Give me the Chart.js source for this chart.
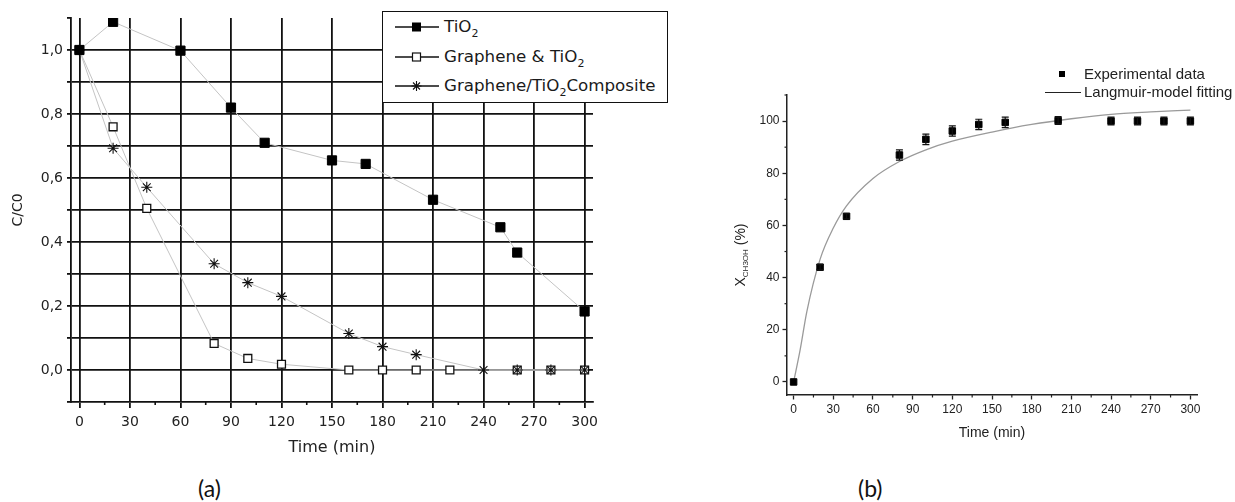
<!DOCTYPE html>
<html>
<head>
<meta charset="utf-8">
<script src="https://cdn.jsdelivr.net/npm/chart.js@4.4.0/dist/chart.umd.min.js"></script>
<style>
  body { margin: 0; background: #fff; width: 1235px; height: 502px; position: relative; overflow: hidden; font-family: 'Liberation Sans', Arial, sans-serif; color: #222; }
  #wrapA { position: absolute; left: 0; top: 0; width: 680px; height: 470px; }
  #wrapB { position: absolute; left: 680px; top: 0; width: 555px; height: 470px; }
  .legA { position: absolute; left: 382px; top: 11px; width: 284px; height: 90px; border: 1.5px solid #111; background: #fff; font: 16.7px 'DejaVu Sans', sans-serif; color: #1a1a1a; }
  .legA .row { position: absolute; left: 0; height: 20px; line-height: 20px; width: 284px; }
  .legA svg { position: absolute; left: 12px; top: 0; }
  .legA span { position: absolute; left: 61px; top: -1px; white-space: nowrap; }
  .legA sub { font-size: 11px; vertical-align: -5px; line-height: 0; }
  .legB { position: absolute; font: 15px 'Liberation Sans', Arial, sans-serif; color: #222; white-space: nowrap; }
  .ytitleB { position: absolute; left: 682px; top: 245px; width: 120px; height: 20px; line-height: 20px; text-align: center; transform: rotate(-90deg); font: 14px 'Liberation Sans', Arial, sans-serif; color: #222; white-space: nowrap; }
  .ytitleB sub { font-size: 8px; vertical-align: -3px; line-height: 0; }
  .cap { position: absolute; top: 474px; font: 23px Lato, 'Open Sans', sans-serif; color: #111; }
</style>
</head>
<body>
<div id="wrapA"><canvas id="chartA" width="680" height="470"></canvas></div>
<div id="wrapB"><canvas id="chartB" width="555" height="470"></canvas></div>

<div class="legA">
  <div class="row" style="top:5px">
    <svg width="46" height="20"><line x1="0" y1="10" x2="44" y2="10" stroke="#111" stroke-width="1.3"/><rect x="17" y="5.5" width="9" height="9" fill="#000"/></svg>
    <span>TiO<sub>2</sub></span>
  </div>
  <div class="row" style="top:35px">
    <svg width="46" height="20"><line x1="0" y1="10" x2="44" y2="10" stroke="#111" stroke-width="1.3"/><rect x="17.5" y="6" width="8" height="8" fill="#fff" stroke="#111" stroke-width="1.2"/></svg>
    <span>Graphene &amp; TiO<sub>2</sub></span>
  </div>
  <div class="row" style="top:64px">
    <svg width="46" height="20"><line x1="0" y1="10" x2="44" y2="10" stroke="#111" stroke-width="1.3"/><path d="M21.5 5 V15 M16.5 10 H26.5 M18 6.5 L25 13.5 M25 6.5 L18 13.5" stroke="#111" stroke-width="1.1"/></svg>
    <span>Graphene/TiO<sub>2</sub>Composite</span>
  </div>
</div>

<div style="position:absolute; left:1059px; top:71px; width:6px; height:6px; background:#000"></div>
<div class="legB" style="left:1084px; top:65px">Experimental data</div>
<div style="position:absolute; left:1045px; top:92px; width:36px; height:1px; background:#222"></div>
<div class="legB" style="left:1084px; top:83px">Langmuir-model fitting</div>
<div class="ytitleB">X<sub>CH3OH</sub> (%)</div>

<div class="cap" style="left:198px">(a)</div>
<div class="cap" style="left:858px">(b)</div>

<script>
// (a) C/C0 vs time
const timeTiO2 = [0, 20, 60, 90, 110, 150, 170, 210, 250, 260, 300];
const cTiO2 = [1.0, 1.088, 0.998, 0.82, 0.71, 0.655, 0.644, 0.532, 0.446, 0.367, 0.183];
const timeGrTiO2 = [0, 20, 40, 80, 100, 120, 160, 180, 200, 220, 260, 280, 300];
const cGrTiO2 = [1.0, 0.76, 0.505, 0.083, 0.036, 0.018, 0, 0, 0, 0, 0, 0, 0];
const timeComp = [0, 20, 40, 80, 100, 120, 160, 180, 200, 240, 260, 280, 300];
const cComp = [1.0, 0.693, 0.571, 0.332, 0.273, 0.23, 0.114, 0.073, 0.048, 0, 0, 0, 0];

// (b) conversion vs time
const timeExp = [0, 20, 40, 80, 100, 120, 140, 160, 200, 240, 260, 280, 300];
const convExp = [0, 44, 63.5, 87, 93, 96.2, 98.7, 99.5, 100.2, 100, 100, 100, 100];
const errExp = [0, 1, 1, 2, 2, 2, 2, 2, 1.5, 1.5, 1.5, 1.5, 1.5];
const timeFit = [0, 5, 10, 20, 30, 40, 60, 80, 100, 120, 150, 180, 210, 240, 270, 300];
const convFit = [0, 12.5, 27, 47, 59, 67.5, 78, 84.5, 89, 92.3, 95.8, 98.7, 100.9, 102.6, 103.5, 104.2];

const pts = (xs, ys) => xs.map((x, i) => ({ x: x, y: ys[i] }));

// short ticks between the labelled ones
const minorTicks = {
  id: 'minorTicks',
  afterDraw(chart, args, opts) {
    const ctx = chart.ctx;
    ctx.save();
    ctx.strokeStyle = opts.color || '#111';
    ctx.lineWidth = opts.width || 1.2;
    (opts.items || []).forEach(m => {
      const s = chart.scales[m.axis];
      for (let v = m.from; v <= s.max + 1e-9; v += m.step) {
        ctx.beginPath();
        if (s.isHorizontal()) {
          const px = s.getPixelForValue(v);
          ctx.moveTo(px, s.top);
          ctx.lineTo(px, s.top + m.len);
        } else {
          const py = s.getPixelForValue(v);
          ctx.moveTo(s.right, py);
          ctx.lineTo(s.right - m.len, py);
        }
        ctx.stroke();
      }
    });
    ctx.restore();
  }
};

const errorBars = {
  id: 'errorBars',
  afterDatasetsDraw(chart) {
    const { ctx, scales: { x, y } } = chart;
    ctx.save();
    ctx.strokeStyle = '#111';
    ctx.lineWidth = 1.2;
    timeExp.forEach((t, i) => {
      const e = errExp[i];
      if (!e) return;
      const px = x.getPixelForValue(t);
      const yTop = y.getPixelForValue(convExp[i] + e);
      const yBot = y.getPixelForValue(convExp[i] - e);
      ctx.beginPath();
      ctx.moveTo(px, yTop); ctx.lineTo(px, yBot);
      ctx.moveTo(px - 3.5, yTop); ctx.lineTo(px + 3.5, yTop);
      ctx.moveTo(px - 3.5, yBot); ctx.lineTo(px + 3.5, yBot);
      ctx.stroke();
    });
    ctx.restore();
  }
};

const fontA = "'DejaVu Sans', sans-serif";
const fontB = "'Liberation Sans', Arial, sans-serif";

new Chart(document.getElementById('chartA'), {
  type: 'line',
  data: {
    datasets: [{
      label: 'TiO2',
      data: pts(timeTiO2, cTiO2),
      borderColor: '#c4c4c4',
      borderWidth: 1,
      pointStyle: 'rect',
      pointRadius: 6.5,
      pointBackgroundColor: '#000',
      pointBorderColor: '#000',
      pointBorderWidth: 1,
      order: 0
    }, {
      label: 'Graphene & TiO2',
      data: pts(timeGrTiO2, cGrTiO2),
      borderColor: '#c4c4c4',
      borderWidth: 1,
      pointStyle: 'rect',
      pointRadius: 5.6,
      pointBackgroundColor: '#fff',
      pointBorderColor: '#111',
      pointBorderWidth: 1.3,
      order: 2
    }, {
      label: 'Graphene/TiO2 Composite',
      data: pts(timeComp, cComp),
      borderColor: '#c4c4c4',
      borderWidth: 1,
      pointStyle: 'star',
      pointRadius: 5.5,
      pointBorderColor: '#111',
      pointBorderWidth: 1.1,
      order: 1
    }]
  },
  options: {
    responsive: false,
    animation: false,
    layout: { padding: { top: 18, right: 87, left: 0, bottom: 0 } },
    plugins: {
      legend: { display: false },
      tooltip: { enabled: false },
      minorTicks: { color: '#111', width: 1.6, items: [{ axis: 'x', from: 15, step: 30, len: 3 }] }
    },
    scales: {
      x: {
        type: 'linear',
        min: -5,
        max: 305,
        afterFit: s => { s.height = 68; },
        border: { display: true, color: '#111', width: 1.8 },
        grid: { color: '#111', lineWidth: 1.8, tickLength: 6, tickColor: '#111' },
        ticks: { stepSize: 30, includeBounds: false, padding: 6, color: '#222', font: { family: fontA, size: 14 } },
        title: { display: true, text: 'Time (min)', color: '#222', font: { family: fontA, size: 16 }, padding: { bottom: 13 } }
      },
      y: {
        min: -0.1,
        max: 1.1,
        afterFit: s => { s.width = 71; },
        border: { display: true, color: '#111', width: 1.8 },
        grid: {
          color: c => { const k = Math.round(c.tick.value * 10); return (k < 0 || k > 10) ? 'rgba(0,0,0,0)' : '#111'; },
          lineWidth: 1.8,
          tickLength: 4,
          tickColor: '#111'
        },
        ticks: {
          stepSize: 0.1,
          padding: 4,
          color: '#222',
          font: { family: fontA, size: 14 },
          callback: v => { const k = Math.round(v * 10); return (k >= 0 && k <= 10 && k % 2 === 0) ? (k / 10).toFixed(1).replace('.', ',') : ''; }
        },
        title: { display: true, text: 'C/C0', color: '#222', font: { family: fontA, size: 14 }, padding: { top: 10 } }
      }
    }
  },
  plugins: [minorTicks]
});

new Chart(document.getElementById('chartB'), {
  type: 'line',
  data: {
    datasets: [{
      label: 'Experimental data',
      data: pts(timeExp, convExp),
      showLine: false,
      pointStyle: 'rect',
      pointRadius: 4.6,
      pointBackgroundColor: '#000',
      pointBorderColor: '#000',
      pointBorderWidth: 1
    }, {
      label: 'Langmuir-model fitting',
      data: pts(timeFit, convFit),
      borderColor: '#9a9a9a',
      borderWidth: 1.3,
      pointRadius: 0,
      cubicInterpolationMode: 'monotone'
    }]
  },
  options: {
    responsive: false,
    animation: false,
    layout: { padding: { top: 95, right: 38, left: 0, bottom: 0 } },
    plugins: {
      legend: { display: false },
      tooltip: { enabled: false },
      minorTicks: {
        color: '#222', width: 1.2,
        items: [{ axis: 'x', from: 15, step: 30, len: 2.5 }, { axis: 'y', from: 10, step: 20, len: 2.5 }]
      }
    },
    scales: {
      x: {
        type: 'linear',
        min: -5,
        max: 305,
        afterFit: s => { s.height = 75; },
        border: { display: true, color: '#222', width: 1.5 },
        grid: { drawOnChartArea: false, tickLength: 4.5, tickColor: '#222', tickWidth: 1.3 },
        ticks: { stepSize: 30, includeBounds: false, padding: 3, color: '#222', font: { family: fontB, size: 12 } },
        title: { display: true, text: 'Time (min)', color: '#222', font: { family: fontB, size: 14 }, padding: { bottom: 28 } }
      },
      y: {
        min: -5,
        max: 110,
        afterFit: s => { s.width = 107; },
        border: { display: true, color: '#222', width: 1.5 },
        grid: { drawOnChartArea: false, tickLength: 4.5, tickColor: '#222', tickWidth: 1.3 },
        ticks: { stepSize: 20, includeBounds: false, padding: 3, color: '#222', font: { family: fontB, size: 12 } }
      }
    }
  },
  plugins: [minorTicks, errorBars]
});
</script>
</body>
</html>
